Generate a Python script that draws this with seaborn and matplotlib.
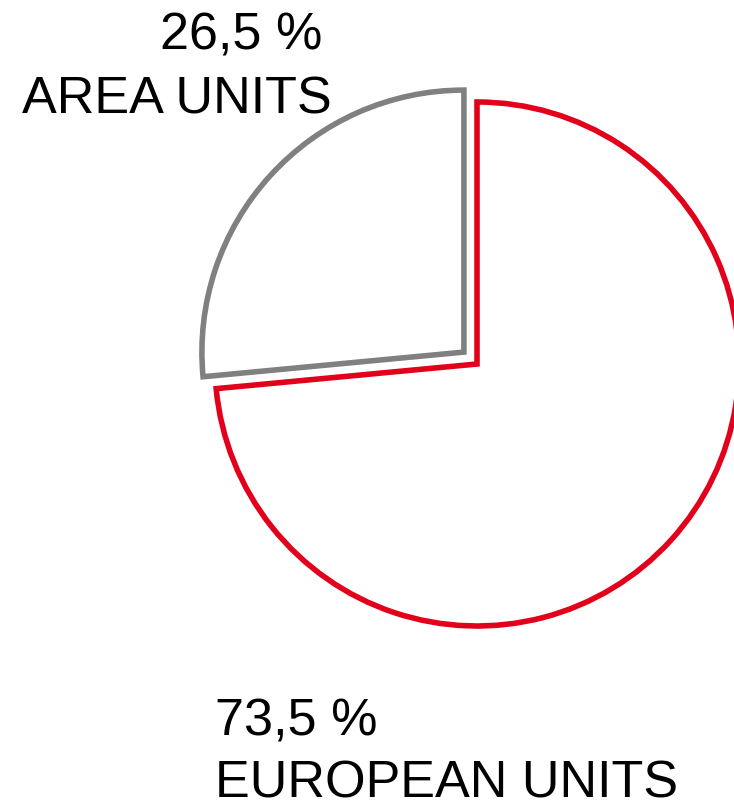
import matplotlib
matplotlib.use("Agg")
import matplotlib.pyplot as plt
import seaborn as sns

# Data
categories = ["EUROPEAN UNITS", "AREA UNITS"]
shares = [73.5, 26.5]
share_labels = ["73,5 %", "26,5 %"]
edge_colors = ["#E2001A", "#808080"]
explode = [0.0, 17.7]  # offset in pixels (matplotlib uses data units)

sns.set_theme(style="white")
plt.rcParams["font.family"] = ["Liberation Sans", "DejaVu Sans"]

W, H = 734, 800
fig = plt.figure(figsize=(W / 100, H / 100), dpi=100)
ax = fig.add_axes([0, 0, 1, 1])

cx, cy, r = 477, H - 364, 262
wedges, _ = ax.pie(
    shares,
    explode=explode,
    startangle=90,
    counterclock=False,
    center=(cx, cy),
    radius=r,
    colors=["white", "white"],
    wedgeprops=dict(linewidth=4.0, joinstyle="miter"),
)
for w, ec in zip(wedges, edge_colors):
    w.set_edgecolor(ec)
    w.set_clip_on(False)

ax.set_xlim(0, W)
ax.set_ylim(0, H)
ax.set_aspect("equal")
ax.axis("off")

fs = 37.5
ax.text(160, H - 50, share_labels[1], fontsize=fs, ha="left", va="baseline", color="black")
ax.text(22, H - 114, categories[1], fontsize=fs, ha="left", va="baseline", color="black")
ax.text(215, H - 735, share_labels[0], fontsize=fs, ha="left", va="baseline", color="black")
ax.text(215, H - 797, categories[0], fontsize=fs, ha="left", va="baseline", color="black")

fig.savefig("out.png", dpi=100, facecolor="white")
